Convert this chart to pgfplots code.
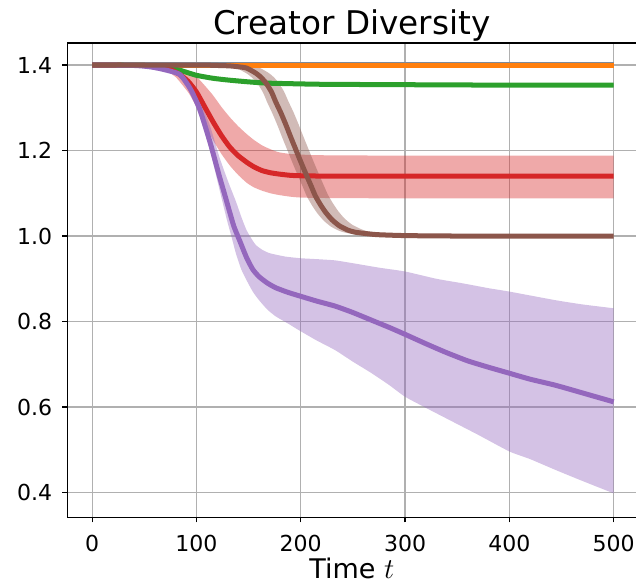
\documentclass[border=0pt]{standalone}
\usepackage{fontspec}
\setmainfont{DejaVu Sans}
\usepackage{pgfplots}
\pgfplotsset{compat=1.18}
\usepgfplotslibrary{fillbetween}
\definecolor{tabblue}{HTML}{7F8A99}
\definecolor{taborange}{HTML}{FF7F0E}
\definecolor{tabgreen}{HTML}{2CA02C}
\definecolor{tabred}{HTML}{D62728}
\definecolor{tabpurple}{HTML}{9467BD}
\definecolor{tabbrown}{HTML}{8C564B}
\definecolor{gridgray}{HTML}{B0B0B0}
\begin{document}
\begin{tikzpicture}
\begin{axis}[
  at={(0,0)}, anchor=south west,
  scale only axis, width=284.5pt, height=237pt,
  xmin=-24, xmax=522, ymin=0.3415, ymax=1.4515,
  xtick={0,100,200,300,400,500},
  ytick={0.4,0.6,0.8,1.0,1.2,1.4},
  yticklabel style={/pgf/number format/fixed,/pgf/number format/fixed zerofill,/pgf/number format/precision=1},
  /pgf/number format/assume math mode=true,
  tick label style={font=\fontsize{11}{13}\selectfont},
  xticklabel style={yshift=-3pt},
  yticklabel style={xshift=-1.5pt},
  tick align=outside, major tick length=2.4pt,
  tick style={black, line width=0.55pt},
  xtick pos=bottom, ytick pos=left,
  axis line style={black, line width=0.55pt},
  grid=major, grid style={gridgray, line width=0.55pt},
  title={Creator Diversity},
  title style={font=\fontsize{16.3}{19}\selectfont, at={(axis description cs:0.5,1)}, anchor=base, yshift=-1.5pt},
  xlabel={Time $t$},
  xlabel style={font=\fontsize{13.5}{16}\selectfont, at={(axis description cs:0.5,0)}, anchor=base, yshift=-30.5pt},
  every axis plot/.append style={smooth, tension=0.35},
]
% ---- green band
\addplot[draw=none, name path=gu, forget plot] coordinates {(0,1.401) (50,1.402) (65,1.399) (75,1.395) (84,1.391) (100,1.380) (116,1.373) (130,1.369) (148,1.365) (165,1.362) (179,1.361) (220,1.359) (300,1.358) (400,1.357) (500,1.357)};
\addplot[draw=none, name path=gl, forget plot] coordinates {(0,1.399) (50,1.396) (65,1.393) (75,1.388) (84,1.384) (100,1.372) (116,1.365) (130,1.361) (148,1.357) (165,1.354) (179,1.353) (220,1.351) (300,1.350) (400,1.349) (500,1.349)};
\addplot[tabgreen, opacity=0.4, draw=none, forget plot] fill between[of=gu and gl];
% ---- red band
\addplot[draw=none, name path=ru, forget plot] coordinates {(0,1.401) (60,1.400) (70,1.399) (78,1.396) (85,1.391) (92,1.383) (100,1.373) (108,1.352) (116,1.329) (124,1.302) (132,1.278) (140,1.257) (148,1.239) (155,1.225) (163,1.212) (171,1.203) (179,1.196) (190,1.192) (205,1.190) (220,1.189) (300,1.188) (400,1.188) (500,1.188)};
\addplot[draw=none, name path=rl, forget plot] coordinates {(0,1.399) (50,1.398) (60,1.396) (70,1.389) (80,1.372) (86,1.355) (93,1.333) (100,1.302) (108,1.263) (116,1.224) (124,1.192) (132,1.165) (140,1.143) (148,1.125) (155,1.114) (163,1.106) (171,1.100) (179,1.096) (190,1.092) (200,1.090) (220,1.089) (300,1.088) (400,1.088) (500,1.088)};
\addplot[tabred, opacity=0.4, draw=none, forget plot] fill between[of=ru and rl];
% ---- purple band
\addplot[draw=none, name path=pu, forget plot] coordinates {(0,1.401) (40,1.400) (55,1.398) (68,1.393) (84,1.383) (94,1.358) (103,1.320) (113,1.258) (122,1.185) (130,1.130) (138,1.080) (143,1.045) (148,1.014) (153,0.993) (157,0.979) (163,0.968) (170,0.960) (185,0.952) (200,0.948) (215,0.946) (233,0.943) (251,0.936) (275,0.926) (300,0.917) (330,0.900) (356,0.889) (380,0.878) (400,0.870) (444,0.850) (470,0.840) (500,0.831)};
\addplot[draw=none, name path=pl, forget plot] coordinates {(0,1.399) (40,1.398) (55,1.394) (68,1.387) (84,1.372) (94,1.333) (103,1.280) (113,1.200) (122,1.110) (129,1.040) (134,0.995) (138,0.958) (143,0.922) (148,0.897) (154,0.870) (160,0.850) (168,0.828) (176,0.812) (188,0.795) (198,0.780) (215,0.756) (233,0.733) (250,0.706) (268,0.679) (285,0.651) (300,0.624) (320,0.598) (339,0.574) (370,0.535) (400,0.496) (420,0.478) (444,0.453) (470,0.427) (500,0.398)};
\addplot[tabpurple, opacity=0.4, draw=none, forget plot] fill between[of=pu and pl];
% ---- brown band
\addplot[draw=none, name path=bu, forget plot] coordinates {(0,1.401) (112,1.401) (132,1.400) (144,1.399) (152,1.397) (160,1.394) (169,1.382) (174,1.372) (179,1.358) (184,1.338) (188,1.316) (193,1.290) (198,1.261) (202,1.236) (207,1.206) (212,1.176) (217,1.147) (222,1.119) (226,1.097) (231,1.076) (236,1.058) (242,1.041) (249,1.027) (257,1.017) (264,1.011) (277,1.007) (287,1.005) (312,1.003) (500,1.002)};
\addplot[draw=none, name path=bl, forget plot] coordinates {(0,1.399) (92,1.399) (112,1.398) (124,1.397) (132,1.395) (140,1.391) (149,1.379) (154,1.369) (159,1.355) (164,1.335) (168,1.312) (173,1.286) (178,1.257) (182,1.232) (187,1.202) (192,1.172) (197,1.143) (202,1.115) (206,1.092) (211,1.071) (216,1.053) (222,1.036) (229,1.022) (237,1.012) (244,1.007) (257,1.003) (267,1.001) (292,0.999) (500,0.999)};
\addplot[tabbrown, opacity=0.4, draw=none, forget plot] fill between[of=bu and bl];
% ---- lines
\addplot[tabblue, line width=2.5pt] coordinates {(0,1.4008) (500,1.4008)};
\addplot[taborange, line width=2.5pt] coordinates {(0,1.398) (500,1.398)};
\addplot[tabgreen, line width=2.5pt] coordinates {(0,1.400) (50,1.399) (65,1.396) (75,1.392) (84,1.388) (100,1.376) (116,1.369) (130,1.365) (148,1.361) (165,1.358) (179,1.357) (220,1.355) (300,1.354) (400,1.353) (500,1.353)};
\addplot[tabred, line width=2.5pt] coordinates {(0,1.400) (50,1.399) (60,1.397) (70,1.393) (78,1.386) (84,1.378) (92,1.362) (100,1.337) (108,1.302) (116,1.267) (124,1.235) (132,1.208) (140,1.188) (148,1.173) (155,1.162) (163,1.153) (171,1.148) (179,1.145) (190,1.142) (200,1.141) (230,1.140) (300,1.140) (400,1.140) (500,1.140)};
\addplot[tabpurple, line width=2.5pt] coordinates {(0,1.400) (40,1.399) (55,1.396) (68,1.390) (84,1.378) (94,1.345) (103,1.298) (113,1.220) (122,1.140) (127,1.098) (132,1.055) (136,1.022) (141,0.992) (148,0.950) (154,0.922) (160,0.905) (168,0.890) (176,0.879) (188,0.868) (200,0.859) (215,0.848) (233,0.836) (250,0.821) (268,0.803) (285,0.786) (300,0.770) (320,0.748) (339,0.728) (360,0.708) (380,0.693) (400,0.679) (420,0.665) (444,0.651) (470,0.633) (500,0.612)};
\addplot[tabbrown, line width=2.5pt] coordinates {(0,1.400) (100,1.400) (120,1.399) (132,1.398) (140,1.396) (148,1.393) (157,1.381) (162,1.371) (167,1.357) (172,1.337) (176,1.314) (181,1.288) (186,1.259) (190,1.234) (195,1.204) (200,1.174) (205,1.145) (210,1.117) (214,1.094) (219,1.073) (224,1.055) (230,1.038) (237,1.024) (245,1.014) (252,1.009) (265,1.005) (275,1.003) (300,1.001) (350,1.000) (500,1.000)};
\end{axis}
\pgfresetboundingbox
\useasboundingbox (-33.5pt,-33pt) rectangle (284.2pt,258.5pt);
\end{tikzpicture}
\end{document}
